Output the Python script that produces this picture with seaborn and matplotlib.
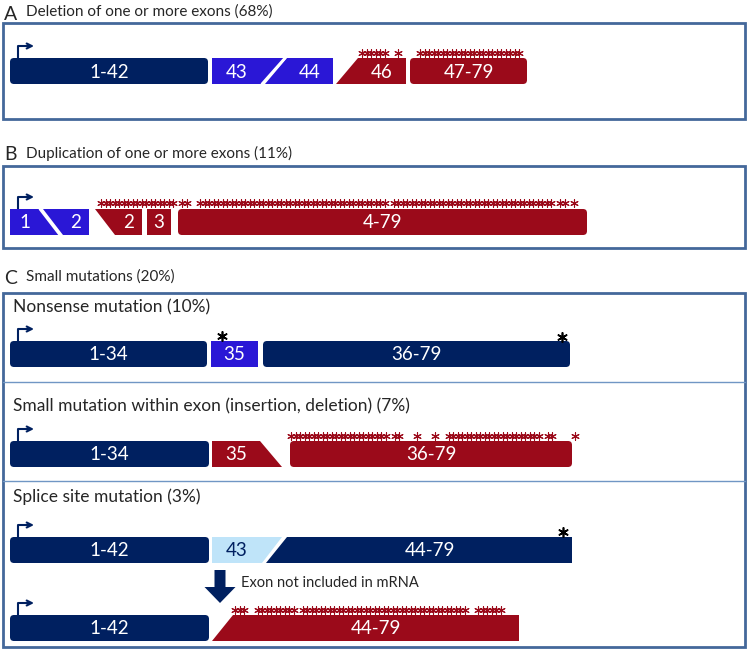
import numpy as np
import pandas as pd
import matplotlib.pyplot as plt
import seaborn as sns
from matplotlib.patches import Polygon, FancyBboxPatch, Rectangle, FancyArrow

sns.set_theme(style="white")
plt.rcParams['font.family'] = ['Lato', 'DejaVu Sans']

# exon blocks: label, left edge (top, bottom), right edge (top, bottom), kind
a_labels = ['1-42', '43', '44', '46', '47-79']
a_left = [(10, 10), (212, 212), (287, 265), (358, 336), (410, 410)]
a_right = [(208, 208), (284, 262), (333, 333), (406, 406), (527, 527)]
a_kind = ['intact', 'deleted', 'deleted', 'outframe', 'outframe']

b_labels = ['1', '2', '2', '3', '4-79']
b_left = [(10, 10), (43, 63), (95, 115), (147, 147), (178, 178)]
b_right = [(40, 60), (89, 89), (142, 142), (171, 171), (587, 587)]
b_kind = ['deleted', 'deleted', 'outframe', 'outframe', 'outframe']

c1_labels = ['1-34', '35', '36-79']
c1_left = [(10, 10), (211, 211), (263, 263)]
c1_right = [(207, 207), (258, 258), (570, 570)]
c1_kind = ['intact', 'deleted', 'intact']

c2_labels = ['1-34', '35', '36-79']
c2_left = [(10, 10), (212, 212), (290, 290)]
c2_right = [(209, 209), (260, 282), (572, 572)]
c2_kind = ['intact', 'outframe', 'outframe']

c3_labels = ['1-42', '43', '44-79']
c3_left = [(10, 10), (212, 212), (287, 266)]
c3_right = [(209, 209), (282, 262), (572, 572)]
c3_kind = ['intact', 'skipped', 'intact']

c4_labels = ['1-42', '44-79']
c4_left = [(10, 10), (233, 212)]
c4_right = [(209, 209), (519, 519)]
c4_kind = ['intact', 'outframe']

# premature stop codons ('*' = mark, ' ' = gap), with start of the run
a_marks = [('******  *', 362), ('***********************', 420)]
b_marks = [('***************** **  ******************************************'
            ' ************************************ ** *', 101)]
c2_marks = [('**********************' + ' ** ' + '  * ' + '  * ' + ' '
             + '*********************' + ' **    *', 291)]
c4_marks = [('***  ********* *************************************  ******', 235)]
stop_x = [222, 562, 563]
stop_y = [336, 337, 532]

NAVY = '#002060'
BLUE = '#2a17d6'
RED = '#9b0a1a'
PALE = '#bfe4f9'
FRAME = '#44689a'
LINE = '#7096c4'
kind_colour = {'intact': NAVY, 'deleted': BLUE, 'outframe': RED, 'skipped': PALE}
H = 26

fig = plt.figure(figsize=(7.5, 6.68), dpi=100)
ax = fig.add_axes([0, 0, 1, 1])
ax.set_xlim(0, 750)
ax.set_ylim(668, 0)
ax.axis('off')


def draw_row(top, labels, lefts, rights, kinds):
    for lab, (lt, lb), (rt, rb), k in zip(labels, lefts, rights, kinds):
        col = kind_colour[k]
        if lt == lb and rt == rb and rt - lt > 60:
            ax.add_patch(FancyBboxPatch((lt, top), rt - lt, H,
                                        boxstyle='round,pad=0,rounding_size=4',
                                        fc=col, ec='none'))
        else:
            ax.add_patch(Polygon([(lt, top), (rt, top), (rb, top + H), (lb, top + H)],
                                 closed=True, fc=col, ec='none'))
        cx = (max(lt, lb) + min(rt, rb)) / 2
        ax.text(cx, top + H / 2 + 1, lab, ha='center', va='center', fontsize=13.5,
                color=NAVY if k == 'skipped' else 'white')
    # promoter arrow
    ax.plot([18, 18, 28], [top, top - 12, top - 12], color=NAVY, lw=1.5,
            solid_capstyle='butt')
    ax.annotate('', xy=(34, top - 12), xytext=(25, top - 12),
                arrowprops=dict(arrowstyle='->', color=NAVY, lw=1.5,
                                mutation_scale=9, shrinkA=0, shrinkB=0))


def draw_marks(marks, y):
    pts = []
    for pattern, start in marks:
        pts += [(start + i * 4.5, y) for i, c in enumerate(pattern) if c == '*']
    df = pd.DataFrame(pts, columns=['x', 'y'])
    sns.scatterplot(data=df, x='x', y='y', ax=ax, marker=(6, 2, 0), s=30,
                    color=RED, linewidth=0.8, legend=False)


# frames
for y0, y1 in [(23, 119), (166, 248), (293, 647)]:
    ax.add_patch(Rectangle((3, y0), 742, y1 - y0, fill=False, ec=FRAME, lw=2))
for y in [382, 481]:
    ax.plot([3, 745], [y, y], color=LINE, lw=1)

# headings
ax.text(4, 14, 'A', fontsize=14, va='center')
ax.text(26, 12, 'Deletion of one or more exons (68%)', fontsize=11, va='center')
ax.text(4, 155, 'B', fontsize=14, va='center')
ax.text(26, 153, 'Duplication of one or more exons (11%)', fontsize=11, va='center')
ax.text(4, 278, 'C', fontsize=14, va='center')
ax.text(26, 277, 'Small mutations (20%)', fontsize=11, va='center')
ax.text(13, 307, 'Nonsense mutation (10%)', fontsize=12.5, va='center')
ax.text(13, 406, 'Small mutation within exon (insertion, deletion) (7%)', fontsize=12.5,
        va='center')
ax.text(13, 497, 'Splice site mutation (3%)', fontsize=12.5, va='center')

draw_row(58, a_labels, a_left, a_right, a_kind)
draw_row(209, b_labels, b_left, b_right, b_kind)
draw_row(341, c1_labels, c1_left, c1_right, c1_kind)
draw_row(441, c2_labels, c2_left, c2_right, c2_kind)
draw_row(537, c3_labels, c3_left, c3_right, c3_kind)
draw_row(615, c4_labels, c4_left, c4_right, c4_kind)

# white dividers inside the deleted blocks
ax.plot([262, 285], [84, 58], color='white', lw=2)
ax.plot([40, 60], [209, 235], color='white', lw=2)

draw_marks(a_marks, 53)
draw_marks(b_marks, 203)
draw_marks(c2_marks, 436)
draw_marks(c4_marks, 610)
sns.scatterplot(x=stop_x, y=stop_y, ax=ax, marker=(6, 2, 0), s=45,
                color='black', linewidth=1.2, legend=False)

# skipping arrow
ax.add_patch(FancyArrow(220, 570, 0, 33, width=11, head_width=31, head_length=16,
                        length_includes_head=True, fc=NAVY, ec='none'))
ax.text(241, 583, 'Exon not included in mRNA', fontsize=10.5, va='center')

fig.savefig('out.png', dpi=100)
